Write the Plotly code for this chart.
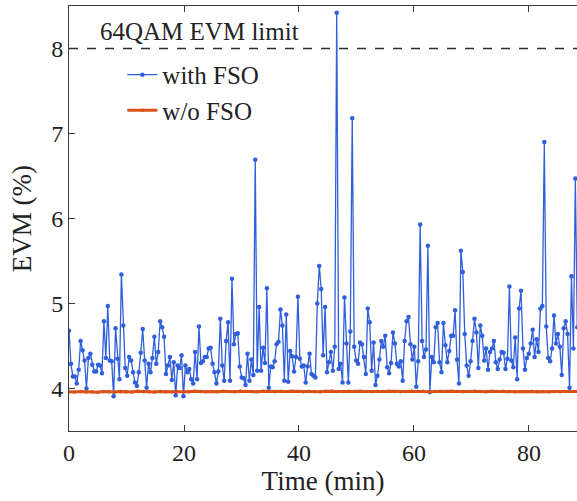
import numpy as np
import plotly.graph_objects as go

# ---- data ----
evm_with_fso = [
    # 0 - ~21 min
    4.68, 4.29, 4.14, 4.14, 4.06, 4.22, 4.56, 4.45, 4.33, 4.00,
    4.36, 4.41, 4.28, 4.20, 4.20, 4.28, 4.27, 4.18, 4.79, 4.36,
    4.97, 4.33, 4.32, 3.91, 4.71, 4.35, 4.11, 5.34, 4.74, 4.24,
    4.15, 4.37, 4.33, 4.19, 4.07, 4.03, 4.19, 4.42, 4.70, 4.33,
    4.01, 4.29, 4.19, 4.36, 4.61, 4.29, 4.43, 4.79, 4.72, 4.61,
    4.17, 4.27, 4.37, 4.10, 4.31, 3.92, 4.27, 4.24, 4.39, 3.91,
    4.27, 4.19,
    # ~21 - ~43 min
    4.23, 4.11, 4.06, 4.43, 4.11, 4.73, 4.30, 4.32, 4.37, 4.37,
    4.47, 4.48, 4.29, 4.19, 4.06, 4.20, 4.82, 4.27, 4.09, 4.56,
    4.78, 4.09, 5.29, 4.52, 4.64, 4.65, 4.26, 4.13, 4.12, 4.04,
    4.41, 4.09, 4.34, 4.16, 6.69, 4.21, 4.96, 4.21, 4.48, 4.30,
    5.18, 4.01, 4.26, 4.25, 4.32, 4.52, 4.55, 4.93, 4.74, 4.09,
    4.87, 4.08, 4.44, 4.38, 4.20, 4.37, 5.08, 4.35, 4.26, 4.27,
    4.07, 4.26, 4.41, 4.17, 4.15, 4.13,
    # ~43 - ~64 min
    5.00, 5.44, 5.17, 4.39, 4.96, 4.19, 4.31, 4.43, 4.21, 4.49,
    8.42, 4.23, 4.29, 4.07, 5.07, 4.53, 4.07, 4.67, 7.18, 4.49,
    4.33, 4.29, 4.54, 4.52, 4.37, 4.17, 4.94, 4.78, 4.21, 4.54,
    4.04, 4.15, 4.34, 4.56, 4.49, 4.62, 4.25, 4.18, 4.30, 4.66,
    4.53, 4.29, 4.26, 4.32, 4.09, 4.56, 4.79, 4.84, 4.52, 4.34,
    4.49, 4.02, 4.32, 5.93, 4.56, 4.37, 4.46, 5.68, 3.96, 4.37,
    4.31, 4.72,
    # ~64 - end
    4.77, 4.31, 4.19, 4.77, 4.51, 4.31, 4.44, 4.62, 4.62, 4.92,
    4.34, 4.06, 5.62, 5.37, 4.64, 4.27, 4.15, 4.32, 4.56, 4.82,
    4.66, 4.24, 4.74, 4.62, 4.33, 4.47, 4.22, 4.43, 4.47, 4.56,
    4.31, 4.23, 4.34, 4.43, 4.42, 4.23, 4.35, 5.20, 4.33, 4.25,
    4.60, 4.11, 4.94, 5.15, 4.47, 4.22, 4.36, 4.41, 4.53, 4.69,
    4.37, 4.58, 4.43, 4.94, 4.97, 6.90, 4.73, 4.36, 4.32, 4.47,
    4.86, 4.53, 4.64, 4.49, 4.16, 4.71, 4.79, 4.64, 4.01, 5.32,
    4.47, 6.47, 4.72,
]

evm_without_fso = [
    3.962, 3.958, 3.965, 3.960, 3.963, 3.957, 3.964, 3.961, 3.959, 3.966,
    3.962, 3.960, 3.967, 3.961, 3.963, 3.958, 3.965, 3.962, 3.960, 3.966,
    3.963, 3.961, 3.968, 3.964, 3.962, 3.966, 3.963, 3.969, 3.965, 3.962,
    3.967, 3.964, 3.966, 3.962, 3.968, 3.965, 3.963, 3.967, 3.964, 3.969,
    3.966, 3.963, 3.968, 3.965, 3.962, 3.967, 3.970, 3.966, 3.964, 3.968,
    3.965, 3.969, 3.966, 3.963, 3.967, 3.964, 3.968, 3.965, 3.962, 3.966,
    3.969, 3.965, 3.967, 3.963, 3.966, 3.968, 3.964, 3.967, 3.965, 3.962,
    3.966, 3.969, 3.965, 3.963, 3.967, 3.964, 3.968, 3.965, 3.962, 3.966,
    3.964, 3.967, 3.963, 3.966, 3.962, 3.965, 3.963, 3.966, 3.964, 3.965,
]

total_minutes = 88.4          # span of the measurement shown
evm_limit = 8.0               # 64QAM EVM limit
limit_label = "64QAM EVM limit"
x_title = "Time (min)"
y_title = "EVM (%)"
x_ticks = [0, 20, 40, 60, 80]
y_ticks = [4, 5, 6, 7, 8]
x_range = [0, 88.35]
y_range = [3.5, 8.5]

t_with = np.linspace(0, total_minutes, len(evm_with_fso))
t_without = np.linspace(0, total_minutes, len(evm_without_fso))

BLUE = "#2F5FDB"
ORANGE = "#D95319"
FONT = "'Liberation Serif', 'Times New Roman', 'DejaVu Serif', serif"
AXC = "#3a3a3a"

fig = go.Figure()
fig.add_trace(go.Scatter(
    x=t_with, y=evm_with_fso, mode="lines+markers", name="with FSO",
    legendgroup="a",
    line=dict(color=BLUE, width=1.3),
    marker=dict(color=BLUE, size=4.5),
))
fig.add_trace(go.Scatter(
    x=t_without, y=evm_without_fso, mode="lines+markers", name="w/o FSO",
    legendgroup="b",
    line=dict(color=ORANGE, width=3),
    marker=dict(color=ORANGE, size=3.5),
))

fig.add_shape(type="line", xref="paper", yref="y", x0=0, x1=1,
              y0=evm_limit, y1=evm_limit,
              line=dict(color="#2b2b2b", width=1.3, dash="dash"))

fig.add_annotation(x=5.0, y=evm_limit + 0.2, xref="x", yref="y",
                   text=limit_label, showarrow=False,
                   xanchor="left", yanchor="middle",
                   font=dict(family=FONT, size=25, color="#222"))

# y-axis title placed as rotated text
fig.add_annotation(x=-0.093, y=0.5, xref="paper", yref="paper",
                   text=y_title, showarrow=False, textangle=-90,
                   xanchor="center", yanchor="middle",
                   font=dict(family=FONT, size=27, color="#222"))

fig.update_layout(
    width=577, height=501,
    margin=dict(l=69, r=0, t=6, b=70),
    paper_bgcolor="white", plot_bgcolor="white",
    font=dict(family=FONT, size=24, color="#222"),
    showlegend=True,
    legend=dict(x=0.105, y=0.892, xanchor="left", yanchor="top",
                bgcolor="rgba(0,0,0,0)", borderwidth=0,
                font=dict(family=FONT, size=25, color="#222"),
                tracegroupgap=0, itemwidth=30),
)
fig.update_xaxes(
    range=x_range, tickmode="array", tickvals=x_ticks,
    ticks="inside", ticklen=6, tickcolor=AXC, tickwidth=1,
    showline=True, linecolor=AXC, linewidth=1, mirror="ticks",
    showgrid=False, zeroline=False,
    tickfont=dict(family=FONT, size=24),
    title=dict(text=x_title, font=dict(family=FONT, size=27), standoff=6),
)
fig.update_yaxes(
    range=y_range, tickmode="array", tickvals=y_ticks,
    ticks="inside", ticklen=6, tickcolor=AXC, tickwidth=1,
    showline=True, linecolor=AXC, linewidth=1, mirror=False,
    showgrid=False, zeroline=False,
    tickfont=dict(family=FONT, size=24),
)

fig.write_html("out.html")
